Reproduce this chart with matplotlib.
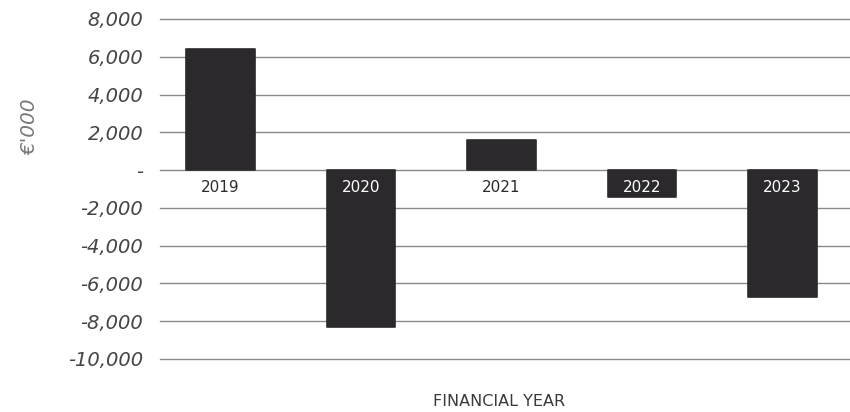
import matplotlib
matplotlib.use("Agg")
import matplotlib.pyplot as plt
from matplotlib.ticker import FixedLocator, FuncFormatter

plt.rcParams['font.family'] = ['DejaVu Sans']

years = ["2019", "2020", "2021", "2022", "2023"]
values = [6400, -8300, 1600, -1450, -6700]
y_ticks = [8000, 6000, 4000, 2000, 0, -2000, -4000, -6000, -8000, -10000]

BAR = "#2b292c"
GRID = "#8a8a8a"

fig = plt.figure(figsize=(8.5, 4.12), dpi=100)
ax = fig.add_axes([160 / 850, 1 - 359 / 412, 690 / 850, (359 - 19) / 412])

x = list(range(len(years)))
ax.bar(x, values, width=0.49, color=BAR, edgecolor=BAR, linewidth=1.2,
       joinstyle="round", zorder=3)

ax.set_xlim(-0.43, 4.48)
ax.set_ylim(-10000, 8000)
ax.yaxis.set_major_locator(FixedLocator(y_ticks))
ax.yaxis.set_major_formatter(FuncFormatter(lambda v, p: "-" if v == 0 else f"{v:,.0f}"))
ax.grid(axis="y", color=GRID, linewidth=1.0, zorder=0)
for gl in ax.get_ygridlines():
    gl.set_clip_on(False)
ax.set_xticks([])
for s in ax.spines.values():
    s.set_visible(False)
ax.tick_params(axis="y", length=0, pad=12)
for lbl in ax.get_yticklabels():
    lbl.set_fontstyle("italic")
    lbl.set_fontsize(14)
    lbl.set_color("#454545")

# year labels sit just under the zero line, white where a bar runs beneath them
for xi, yr, v in zip(x, years, values):
    ax.text(xi, -900, yr, ha="center", va="center", fontsize=11,
            color="white" if v < 0 else "#2b2b2b", zorder=4)

fig.text(30 / 850, 1 - 127 / 412, "€'000", rotation=90, ha="center", va="center",
         fontsize=14.5, fontstyle="italic", color="#7a7a7a")
fig.text(499 / 850, 1 - 402 / 412, "FINANCIAL YEAR", ha="center", va="center",
         fontsize=11.5, color="#3a3a3a")

fig.savefig("out.png", dpi=100)
